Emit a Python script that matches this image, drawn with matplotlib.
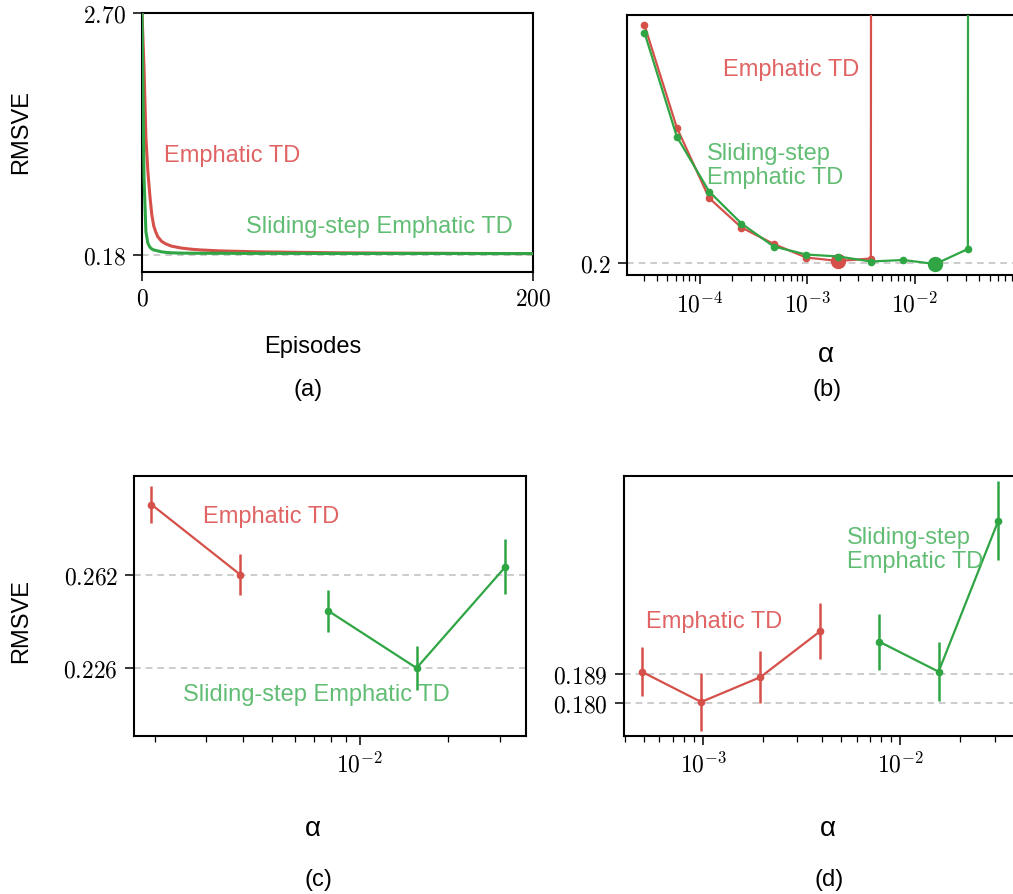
import numpy as np
import matplotlib
matplotlib.use('Agg')
import matplotlib.pyplot as plt
from matplotlib.ticker import FixedLocator, FixedFormatter, NullFormatter, LogLocator

plt.rcParams['font.family'] = ['Liberation Sans', 'DejaVu Sans']
plt.rcParams['mathtext.fontset'] = 'cm'

# ---------------- data ----------------
# (a) learning curves
episodes = [0, 1, 2, 3, 4, 5, 6, 7, 8, 10, 12, 15, 20, 25, 30, 40, 50, 60, 80, 100, 125, 150, 175, 200]
etd_curve = [2.70, 2.15, 1.40, 1.05, 0.80, 0.60, 0.48, 0.42, 0.37, 0.32, 0.295, 0.27, 0.25, 0.238,
             0.23, 0.22, 0.215, 0.21, 0.205, 0.20, 0.197, 0.195, 0.193, 0.192]
sse_curve = [2.70, 1.00, 0.42, 0.30, 0.26, 0.24, 0.23, 0.225, 0.22, 0.21, 0.205, 0.20, 0.197, 0.196,
             0.195, 0.195, 0.194, 0.194, 0.194, 0.193, 0.193, 0.193, 0.192, 0.192]
ref_a = [0.18]
yticks_a = [0.18, 2.70]
xticks_a = [0, 200]

# (b) parameter sensitivity (diverged runs shown as very large values)
alpha_b = [3.05e-5, 6.10e-5, 1.22e-4, 2.44e-4, 4.88e-4, 9.77e-4, 1.95e-3, 3.91e-3,
           7.81e-3, 1.56e-2, 3.13e-2, 6.25e-2]
DIVERGED = 100.0
etd_b = [0.676, 0.471, 0.330, 0.271, 0.238, 0.211, 0.204, 0.209, DIVERGED, DIVERGED, DIVERGED, DIVERGED]
sse_b = [0.661, 0.453, 0.343, 0.279, 0.233, 0.217, 0.213, 0.203, 0.206, 0.198, 0.228, DIVERGED]
best_etd_b = (1.95e-3, 0.204)
best_sse_b = (1.56e-2, 0.198)
ref_b = [0.2]

# (c)
alpha_c_etd = [1.95e-3, 3.91e-3]
etd_c = [0.289, 0.262]
etd_c_err = [0.0070, 0.0078]
alpha_c_sse = [7.81e-3, 1.56e-2, 3.13e-2]
sse_c = [0.248, 0.226, 0.265]
sse_c_err = [0.0082, 0.0086, 0.0106]
ref_c = [0.262, 0.226]

# (d)
alpha_d_etd = [4.88e-4, 9.77e-4, 1.95e-3, 3.91e-3]
etd_d = [0.1898, 0.1804, 0.1881, 0.2023]
etd_d_err = [0.0077, 0.0089, 0.0080, 0.0087]
alpha_d_sse = [7.81e-3, 1.56e-2, 3.13e-2]
sse_d = [0.1991, 0.1898, 0.2366]
sse_d_err = [0.0087, 0.0091, 0.0123]
ref_d = [0.189, 0.180]

# ---------------- style ----------------
RED = '#d6504a'
GREEN = '#2fa544'
RED_T = '#e06464'
GREEN_T = '#62bd74'
GRID = '#c4c4c4'
W, H = 1013, 895

fig = plt.figure(figsize=(W / 100, H / 100), dpi=100)


def rect(l, t, r, b):
    return [l / W, 1 - b / H, (r - l) / W, (b - t) / H]


def ftext(x, y, s, **kw):
    fig.text(x / W, 1 - y / H, s, **kw)


def style(ax):
    for sp in ax.spines.values():
        sp.set_linewidth(1.5)
        sp.set_color('black')
    ax.tick_params(which='major', length=6.5, width=1.1, direction='out', labelsize=17, pad=5,
                   top=False, right=False)
    ax.tick_params(which='minor', length=4.5, width=0.9, direction='out', top=False, right=False)


def fmt(vals, digits):
    return [('$%.' + str(digits) + 'f$') % v for v in vals]


# ---- (a)
axA = fig.add_axes(rect(142, 14, 533, 273))
for v in ref_a:
    axA.axhline(v, color=GRID, lw=1.2, ls=(0, (4, 3)), zorder=1)
axA.plot(episodes, etd_curve, color=RED, lw=2.2, zorder=3)
axA.plot(episodes, sse_curve, color=GREEN, lw=2.2, zorder=4)
axA.set_xlim(0, 200)
axA.set_ylim(0.0, 2.70)
axA.yaxis.set_major_locator(FixedLocator(yticks_a))
axA.yaxis.set_major_formatter(FixedFormatter(fmt(yticks_a, 2)))
axA.xaxis.set_major_locator(FixedLocator(xticks_a))
axA.xaxis.set_major_formatter(FixedFormatter(['$%d$' % v for v in xticks_a]))
style(axA)

# ---- (b)
axB = fig.add_axes(rect(626.7, 16, 1018, 276))
for v in ref_b:
    axB.axhline(v, color=GRID, lw=1.2, ls=(0, (4, 3)), zorder=1)
axB.plot(alpha_b, etd_b, '-o', color=RED, lw=1.6, ms=4.5, zorder=3)
axB.plot([best_etd_b[0]], [best_etd_b[1]], 'o', color=RED, ms=10, zorder=3)
axB.plot(alpha_b, sse_b, '-o', color=GREEN, lw=1.6, ms=4.5, zorder=4)
axB.plot([best_sse_b[0]], [best_sse_b[1]], 'o', color=GREEN, ms=10, zorder=4)
axB.set_xscale('log')
axB.set_xlim(2.085e-5, 9.17e-2)
axB.set_ylim(0.176, 0.696)
axB.xaxis.set_major_locator(FixedLocator([1e-4, 1e-3, 1e-2]))
axB.xaxis.set_major_formatter(FixedFormatter(['$10^{-4}$', '$10^{-3}$', '$10^{-2}$']))
axB.xaxis.set_minor_locator(LogLocator(base=10, subs=np.arange(2, 10), numticks=20))
axB.xaxis.set_minor_formatter(NullFormatter())
axB.yaxis.set_major_locator(FixedLocator(ref_b))
axB.yaxis.set_major_formatter(FixedFormatter(['$0.2$']))
style(axB)

# ---- (c)
axC = fig.add_axes(rect(134, 477, 526, 736.5))
for v in ref_c:
    axC.axhline(v, color=GRID, lw=1.2, ls=(0, (4, 3)), zorder=1)
axC.errorbar(alpha_c_etd, etd_c, yerr=etd_c_err, fmt='-o', color=RED, lw=1.6, ms=4.5,
             elinewidth=1.8, capsize=0, zorder=3)
axC.errorbar(alpha_c_sse, sse_c, yerr=sse_c_err, fmt='-o', color=GREEN, lw=1.6, ms=4.5,
             elinewidth=1.8, capsize=0, zorder=3)
axC.set_xscale('log')
axC.set_xlim(1.70e-3, 3.68e-2)
axC.set_ylim(0.20, 0.30)
axC.xaxis.set_major_locator(FixedLocator([1e-2]))
axC.xaxis.set_major_formatter(FixedFormatter(['$10^{-2}$']))
axC.xaxis.set_minor_locator(LogLocator(base=10, subs=np.arange(2, 10), numticks=20))
axC.xaxis.set_minor_formatter(NullFormatter())
axC.yaxis.set_major_locator(FixedLocator(ref_c))
axC.yaxis.set_major_formatter(FixedFormatter(fmt(ref_c, 3)))
style(axC)

# ---- (d)
axD = fig.add_axes(rect(624, 477, 1016, 736.5))
for v in ref_d:
    axD.axhline(v, color=GRID, lw=1.2, ls=(0, (4, 3)), zorder=1)
axD.errorbar(alpha_d_etd, etd_d, yerr=etd_d_err, fmt='-o', color=RED, lw=1.6, ms=4.5,
             elinewidth=1.8, capsize=0, zorder=3)
axD.errorbar(alpha_d_sse, sse_d, yerr=sse_d_err, fmt='-o', color=GREEN, lw=1.6, ms=4.5,
             elinewidth=1.8, capsize=0, zorder=3)
axD.set_xscale('log')
axD.set_xlim(3.97e-4, 3.85e-2)
axD.set_ylim(0.17, 0.2505)
axD.xaxis.set_major_locator(FixedLocator([1e-3, 1e-2]))
axD.xaxis.set_major_formatter(FixedFormatter(['$10^{-3}$', '$10^{-2}$']))
axD.xaxis.set_minor_locator(LogLocator(base=10, subs=np.arange(2, 10), numticks=20))
axD.xaxis.set_minor_formatter(NullFormatter())
axD.yaxis.set_major_locator(FixedLocator(ref_d))
axD.yaxis.set_major_formatter(FixedFormatter(fmt(ref_d, 3)))
style(axD)

# ---- annotations
TS = 17
ftext(163.6, 156, 'Emphatic TD', color=RED_T, size=TS, va='center', ha='left')
ftext(246, 226.7, 'Sliding-step Emphatic TD', color=GREEN_T, size=TS, va='center', ha='left')
ftext(723.3, 70, 'Emphatic TD', color=RED_T, size=TS, va='center', ha='left')
ftext(706.7, 166, 'Sliding-step\nEmphatic TD', color=GREEN_T, size=TS, va='center', ha='left',
      linespacing=1.15)
ftext(203, 516.7, 'Emphatic TD', color=RED_T, size=TS, va='center', ha='left')
ftext(183.4, 695, 'Sliding-step Emphatic TD', color=GREEN_T, size=TS, va='center', ha='left')
ftext(646, 622, 'Emphatic TD', color=RED_T, size=TS, va='center', ha='left')
ftext(847.3, 550, 'Sliding-step\nEmphatic TD', color=GREEN_T, size=TS, va='center', ha='left',
      linespacing=1.15)

# ---- axis labels and captions
ftext(21, 132.5, 'RMSVE', rotation=90, size=17, va='center', ha='center')
ftext(21, 621, 'RMSVE', rotation=90, size=17, va='center', ha='center')
ftext(313, 347, 'Episodes', size=17, va='center', ha='center')
ftext(825.6, 355, 'α', size=20, va='center', ha='center')
ftext(313, 829, 'α', size=20, va='center', ha='center')
ftext(828, 829, 'α', size=20, va='center', ha='center')
ftext(308, 390, '(a)', size=17, va='center', ha='center')
ftext(827, 390, '(b)', size=17, va='center', ha='center')
ftext(318, 880, '(c)', size=17, va='center', ha='center')
ftext(829, 880, '(d)', size=17, va='center', ha='center')

fig.savefig('out.png', dpi=100)
